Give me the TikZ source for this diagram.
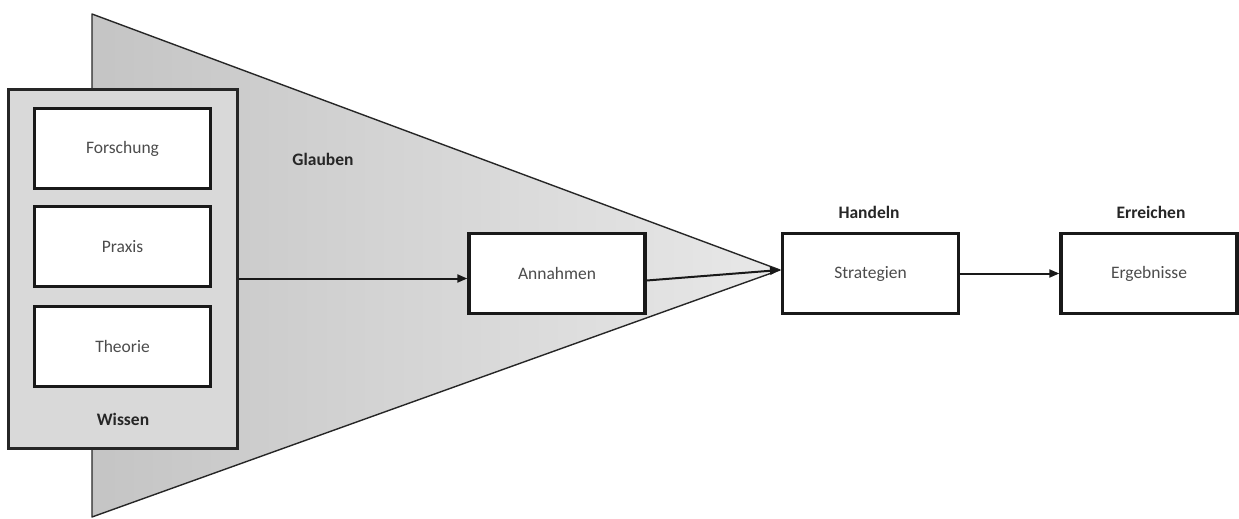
\documentclass[tikz,border=0pt]{standalone}
\usepackage{fontspec}
\setmainfont{Carlito}
\usetikzlibrary{arrows.meta,shadings}
\begin{document}
\begin{tikzpicture}[x=1pt,y=-1pt,
  box/.style={draw=black!90,line width=3.4pt,fill=white,minimum width=176pt,minimum height=80pt,
    inner sep=0pt,font=\fontsize{17.5}{20}\selectfont,text=black!70},
  lbl/.style={font=\bfseries\fontsize{17.5}{20}\selectfont,text=black!85},
  conn/.style={draw=black!90,line width=2pt,-{Triangle[length=10pt,width=8pt]}}]
\useasboundingbox (0,0) rectangle (1239,519);
% funnel of beliefs
\coordinate (tl) at (92,14);
\coordinate (bl) at (92,517);
\coordinate (apex) at (780,270);
\shade[left color=black!23,right color=black!9] (tl) -- (apex) -- (bl) -- cycle;
\draw[black!85,line width=1.4pt,line join=round] (tl) -- (apex) -- (bl) -- cycle;
% knowledge container
\node[draw=black!85,line width=3.2pt,fill=black!15,minimum width=229pt,minimum height=359pt,inner sep=0pt]
  (wissen) at (123,269) {};
\node[box] (forschung) at (122.5,148.5) {Forschung};
\node[box] (praxis) at (122.5,246.5) {Praxis};
\node[box] (theorie) at (122.5,346.5) {Theorie};
\node[lbl] (wlabel) at (123,419) {Wissen};
\node[lbl] (glauben) at (323,159) {Glauben};
% process chain
\node[box] (annahmen) at (557,273.5) {Annahmen};
\node[box] (strategien) at (870.5,273.5) {Strategien};
\node[box] (ergebnisse) at (1149,273.5) {Ergebnisse};
\node[lbl] (handeln) at (869,212) {Handeln};
\node[lbl] (erreichen) at (1151,212) {Erreichen};
% connectors
\draw[conn] ([yshift=-5pt]wissen.east |- annahmen.west) -- ([yshift=-5pt]annahmen.west);
\draw[conn] ([yshift=-7pt]annahmen.east) -- (apex);
\draw[conn] (strategien.east) -- (ergebnisse.west);
\end{tikzpicture}
\end{document}
